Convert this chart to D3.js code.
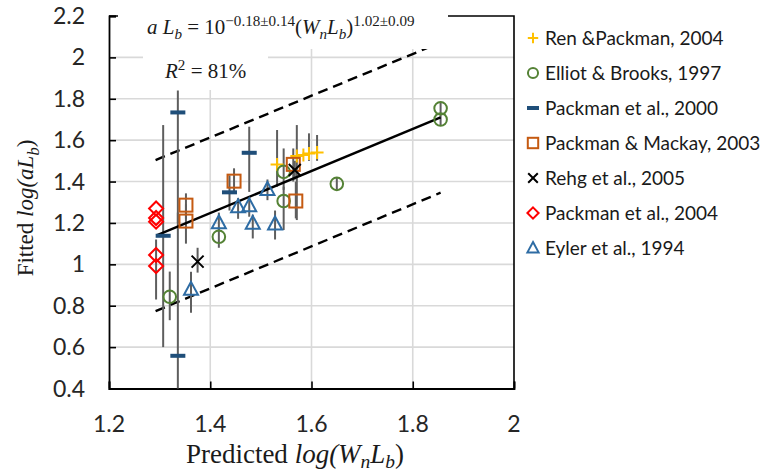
<!DOCTYPE html>
<html>
<head>
<meta charset="utf-8">
<script src="https://cdn.jsdelivr.net/npm/d3@7.9.0/dist/d3.min.js"></script>
<style>
  body { margin: 0; background: #fff; }
  svg { display: block; }
</style>
</head>
<body>
<div id="chart"></div>
<script>
// series values
const renX = [1.532, 1.571, 1.584, 1.595, 1.611];
const renY = [1.483, 1.523, 1.528, 1.536, 1.541];
const renLo = [1.375, 1.214, null, 1.50, 1.50];
const renHi = [1.649, 1.673, null, 1.633, 1.625];

const elliotX = [1.320, 1.417, 1.545, 1.545, 1.650, 1.855, 1.855];
const elliotY = [0.843, 1.133, 1.447, 1.306, 1.389, 1.754, 1.700];
const elliotLo = [0.73, 1.08, 1.36, 1.166, 1.36, 1.73, 1.67];
const elliotHi = [0.965, 1.18, 1.56, 1.375, 1.42, 1.78, 1.73];

const pack00X = [1.307, 1.336, 1.336, 1.438, 1.477];
const pack00Y = [1.138, 1.734, 0.558, 1.348, 1.539];
const pack00Lo = [0.60, 1.20, 0.40, 1.26, 1.35];
const pack00Hi = [1.673, 1.84, 1.25, 1.43, 1.665];

const mackayX = [1.352, 1.352, 1.447, 1.564, 1.569];
const mackayY = [1.286, 1.209, 1.402, 1.483, 1.306];
const mackayLo = [1.22, 1.10, 1.35, 1.40, 1.222];
const mackayHi = [1.343, 1.29, 1.464, 1.56, 1.40];

const rehgX = [1.375, 1.567];
const rehgY = [1.013, 1.456];
const rehgLo = [0.96, 1.41];
const rehgHi = [1.08, 1.50];

const pack04X = [1.293, 1.293, 1.293, 1.293, 1.293];
const pack04Y = [1.270, 1.224, 1.206, 1.045, 0.992];
const pack04Lo = [null, null, null, 0.83, null];
const pack04Hi = [null, null, null, 1.12, null];

const eylerX = [1.362, 1.417, 1.455, 1.477, 1.484, 1.513, 1.528];
const eylerY = [0.879, 1.201, 1.278, 1.283, 1.198, 1.362, 1.195];
const eylerLo = [0.766, 1.16, 1.22, 1.23, 1.125, 1.31, 1.12];
const eylerHi = [0.964, 1.25, 1.32, 1.33, 1.24, 1.41, 1.26];

// fitted line and the two dashed bands (end points)
const fitX = [1.294, 1.855];
const fitY = [1.140, 1.710];
const upperX = [1.292, 1.855];
const upperY = [1.504, 2.072];
const lowerX = [1.292, 1.855];
const lowerY = [0.774, 1.346];

const xTicks = [1.2, 1.4, 1.6, 1.8, 2];
const yTicks = [0.4, 0.6, 0.8, 1, 1.2, 1.4, 1.6, 1.8, 2, 2.2];

const series = [
  { name: 'Ren &Packman, 2004', shape: 'plus', color: '#ffc000', x: renX, y: renY, lo: renLo, hi: renHi },
  { name: 'Elliot & Brooks, 1997', shape: 'circle', color: '#548235', x: elliotX, y: elliotY, lo: elliotLo, hi: elliotHi },
  { name: 'Packman et al., 2000', shape: 'dash', color: '#1f4e79', x: pack00X, y: pack00Y, lo: pack00Lo, hi: pack00Hi },
  { name: 'Packman & Mackay, 2003', shape: 'square', color: '#c55a11', x: mackayX, y: mackayY, lo: mackayLo, hi: mackayHi },
  { name: 'Rehg et al., 2005', shape: 'cross', color: '#000000', x: rehgX, y: rehgY, lo: rehgLo, hi: rehgHi },
  { name: 'Packman et al., 2004', shape: 'diamond', color: '#ff0000', x: pack04X, y: pack04Y, lo: pack04Lo, hi: pack04Hi },
  { name: 'Eyler et al., 1994', shape: 'triangle', color: '#2e6ca4', x: eylerX, y: eylerY, lo: eylerLo, hi: eylerHi },
];

const width = 767;
const height = 472;
const sans = 'Lato, "Open Sans", sans-serif';
const serif = '"Liberation Serif", "DejaVu Serif", serif';

const svg = d3.select('#chart')
  .append('svg')
  .attr('width', width)
  .attr('height', height);

const xScale = d3.scaleLinear().domain([1.2, 2]).range([109, 514]);
const yScale = d3.scaleLinear().domain([0.4, 2.2]).range([388.5, 16]);

// gridlines
const grid = svg.append('g').attr('stroke', '#d9d9d9').attr('stroke-width', 1.6);
grid.selectAll('.hgrid')
  .data(yTicks.slice(1, -1))
  .join('line')
  .attr('x1', xScale(1.2)).attr('x2', xScale(2))
  .attr('y1', (d) => yScale(d)).attr('y2', (d) => yScale(d));
grid.selectAll('.vgrid')
  .data(xTicks.slice(1, -1))
  .join('line')
  .attr('y1', yScale(0.4)).attr('y2', yScale(2.2))
  .attr('x1', (d) => xScale(d)).attr('x2', (d) => xScale(d));

// frame (top + right)
svg.append('path')
  .attr('d', `M${xScale(1.2)},${yScale(2.2)}H${xScale(2)}V${yScale(0.4)}`)
  .attr('fill', 'none')
  .attr('stroke', '#000')
  .attr('stroke-width', 1.6);

// axes with inward ticks
const xAxis = svg.append('g')
  .attr('transform', `translate(0,${yScale(0.4)})`)
  .call(d3.axisTop(xScale).tickValues(xTicks).tickSize(7).tickFormat(''));
const yAxis = svg.append('g')
  .attr('transform', `translate(${xScale(1.2)},0)`)
  .call(d3.axisRight(yScale).tickValues(yTicks).tickSize(7).tickFormat(''));
[xAxis, yAxis].forEach((ax) => {
  ax.select('.domain').attr('stroke', '#000').attr('stroke-width', 1.8);
  ax.selectAll('.tick line').attr('stroke', '#000').attr('stroke-width', 1.6);
});

// tick labels
svg.append('g')
  .selectAll('text')
  .data(xTicks)
  .join('text')
  .attr('x', (d) => xScale(d))
  .attr('y', 432)
  .attr('text-anchor', 'middle')
  .attr('font-family', sans)
  .attr('font-size', 23)
  .attr('fill', '#262626')
  .text((d) => d);
svg.append('g')
  .selectAll('text')
  .data(yTicks)
  .join('text')
  .attr('x', 85)
  .attr('y', (d) => yScale(d) + 8)
  .attr('text-anchor', 'end')
  .attr('font-family', sans)
  .attr('font-size', 23)
  .attr('fill', '#262626')
  .text((d) => d);

// dashed bands and fit line
const line = d3.line().x((d) => xScale(d[0])).y((d) => yScale(d[1]));
svg.append('path')
  .datum(d3.zip(upperX, upperY))
  .attr('d', line)
  .attr('stroke', '#000').attr('stroke-width', 2.4).attr('stroke-dasharray', '10,6').attr('fill', 'none');
svg.append('path')
  .datum(d3.zip(lowerX, lowerY))
  .attr('d', line)
  .attr('stroke', '#000').attr('stroke-width', 2.4).attr('stroke-dasharray', '10,6').attr('fill', 'none');

// error bars
const bars = svg.append('g').attr('stroke', '#5e5e5e').attr('stroke-width', 2);
series.forEach((s) => {
  const pts = s.x.map((x, i) => ({ x, lo: s.lo[i], hi: s.hi[i] })).filter((d) => d.lo != null);
  bars.selectAll(null)
    .data(pts)
    .join('line')
    .attr('x1', (d) => xScale(d.x)).attr('x2', (d) => xScale(d.x))
    .attr('y1', (d) => yScale(d.lo)).attr('y2', (d) => yScale(d.hi));
});

svg.append('path')
  .datum(d3.zip(fitX, fitY))
  .attr('d', line)
  .attr('stroke', '#000').attr('stroke-width', 2.4).attr('fill', 'none');

// marker drawing, k scales the symbol (legend uses a smaller one)
function drawMarker(g, shape, color, k) {
  const sw = 2;
  const s = k || 1;
  if (shape === 'plus') {
    g.append('path').attr('d', `M${-6.5 * s},0H${6.5 * s}M0,${-6.5 * s}V${6.5 * s}`).attr('stroke', color).attr('stroke-width', sw);
  } else if (shape === 'circle') {
    g.append('circle').attr('r', 6.3 * s).attr('fill', 'none').attr('stroke', color).attr('stroke-width', sw);
  } else if (shape === 'dash') {
    g.append('rect').attr('x', -7.5 * s).attr('y', -2).attr('width', 15 * s).attr('height', 4).attr('fill', color);
  } else if (shape === 'square') {
    g.append('rect').attr('x', -6.5 * s).attr('y', -6.5 * s).attr('width', 13 * s).attr('height', 13 * s)
      .attr('fill', 'none').attr('stroke', color).attr('stroke-width', sw);
  } else if (shape === 'cross') {
    g.append('path').attr('d', `M${-6 * s},${-6 * s}L${6 * s},${6 * s}M${6 * s},${-6 * s}L${-6 * s},${6 * s}`).attr('stroke', color).attr('stroke-width', sw);
  } else if (shape === 'diamond') {
    g.append('path').attr('d', `M0,${-7 * s}L${7 * s},0L0,${7 * s}L${-7 * s},0Z`).attr('fill', 'none').attr('stroke', color).attr('stroke-width', sw);
  } else if (shape === 'triangle') {
    g.append('path').attr('d', `M0,${-7.5 * s}L${7 * s},${5.5 * s}L${-7 * s},${5.5 * s}Z`).attr('fill', 'none').attr('stroke', color).attr('stroke-width', sw);
  }
}

series.forEach((s) => {
  const pts = s.x.map((x, i) => ({ x, y: s.y[i] }));
  svg.append('g')
    .selectAll('g')
    .data(pts)
    .join('g')
    .attr('transform', (d) => `translate(${xScale(d.x)},${yScale(d.y)})`)
    .each(function () { drawMarker(d3.select(this), s.shape, s.color); });
});

// white boxes behind the annotations
svg.append('rect').attr('x', 118).attr('y', 0).attr('width', 330).attr('height', 49).attr('fill', '#fff');
svg.append('rect').attr('x', 143).attr('y', 49).attr('width', 125).attr('height', 41).attr('fill', '#fff');

// math text helper: segments of [text, italic, shift]
function mathText(sel, x, y, size, segs, anchor) {
  const t = sel.append('text')
    .attr('x', x).attr('y', y)
    .attr('font-family', serif)
    .attr('font-size', size)
    .attr('fill', '#1a1a1a')
    .attr('text-anchor', anchor || 'start');
  let cur = 0;
  segs.forEach(([txt, it, shift]) => {
    const sh = shift || 0;
    t.append('tspan')
      .attr('dy', sh - cur)
      .attr('font-style', it ? 'italic' : 'normal')
      .attr('font-size', sh ? size * 0.72 : size)
      .text(txt);
    cur = sh;
  });
  return t;
}

mathText(svg, 147, 34, 21, [
  ['a L', true], ['b', true, 5], [' = 10', false], ['−0.18±0.14', false, -8],
  ['(', false], ['W', true], ['n', true, 5], ['L', true], ['b', true, 5], [')', false],
  ['1.02±0.09', false, -8],
]);
mathText(svg, 165, 78, 21, [
  ['R', true], ['2', false, -8], [' = 81%', false],
]);

// axis titles
mathText(svg, 295, 463, 27, [
  ['Predicted ', false], ['log(W', true], ['n', true, 5], ['L', true], ['b', true, 5], [')', false],
], 'middle');
mathText(svg.append('g').attr('transform', 'translate(33,208) rotate(-90)'), 0, 0, 23, [
  ['Fitted ', false], ['log(aL', true], ['b', true, 6], [')', false],
], 'middle');

// legend
const legend = svg.append('g');
series.forEach((s, i) => {
  const cy = 38 + i * 35;
  const g = legend.append('g').attr('transform', `translate(533,${cy})`);
  drawMarker(g, s.shape, s.color, 0.8);
  legend.append('text')
    .attr('x', 545)
    .attr('y', cy + 6.5)
    .attr('font-family', sans)
    .attr('font-size', 19)
    .attr('fill', '#1a1a1a')
    .text(s.name);
});
</script>
</body>
</html>
